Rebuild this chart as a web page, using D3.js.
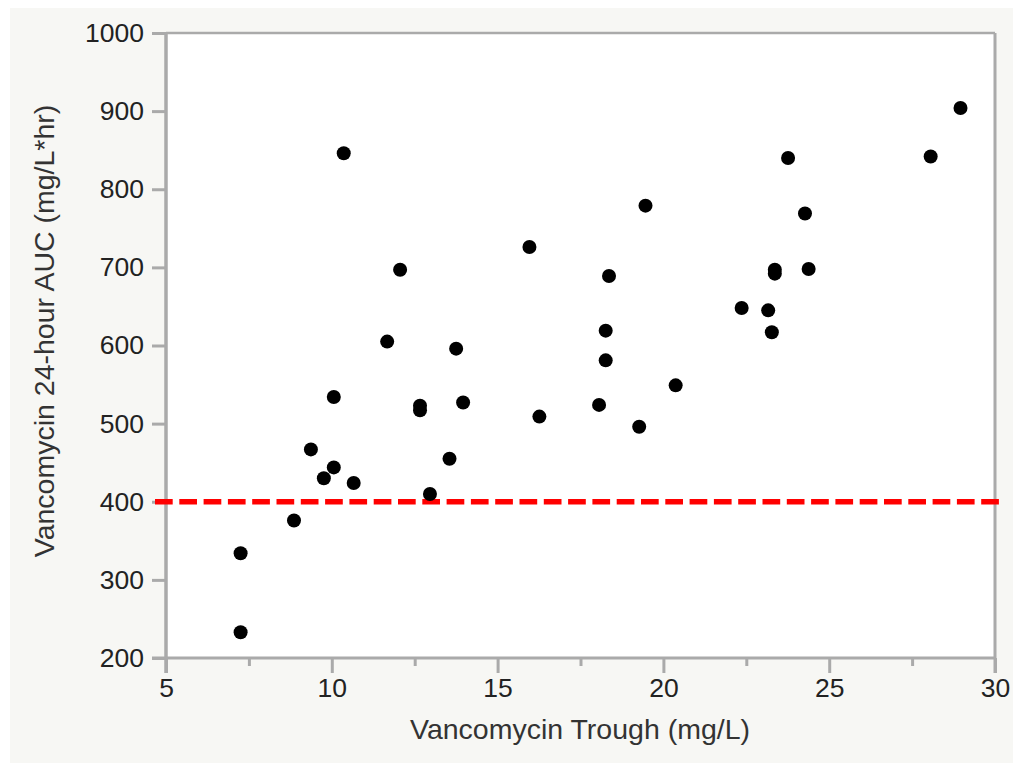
<!DOCTYPE html>
<html>
<head>
<meta charset="utf-8">
<script src="https://cdn.jsdelivr.net/npm/d3@7"></script>
<style>
  body { margin: 0; background: #fff; }
</style>
</head>
<body>
<div id="chart"></div>
<script>
// trough (mg/L) vs 24h AUC (mg/L*hr)
const trough = [7.25, 7.25, 8.86, 9.37, 9.76, 10.06, 10.06, 10.36, 10.66, 11.67, 12.06, 12.66,
  12.66, 12.96, 13.55, 13.75, 13.96, 15.96, 16.26, 18.06, 18.26, 18.26, 18.36, 19.27,
  19.46, 20.37, 22.36, 23.16, 23.27, 23.36, 23.36, 23.76, 24.27, 24.38, 28.06, 28.96];
const auc = [233, 334, 376, 467, 430, 444, 534, 846, 424, 605, 697, 523,
  517, 410, 455, 596, 527, 726, 509, 524, 581, 619, 689, 496,
  779, 549, 648, 645, 617, 697, 692, 840, 769, 698, 842, 904];
const xTicks = [5, 10, 15, 20, 25, 30];
const xMinor = [7.5, 12.5, 17.5, 22.5, 27.5];
const yTicks = [200, 300, 400, 500, 600, 700, 800, 900, 1000];
const target = 400;

const width = 1013, height = 763;
const margin = { top: 33, right: 18, bottom: 105, left: 166 };

const svg = d3.select("#chart").append("svg")
  .attr("width", width)
  .attr("height", height);

// panel background
svg.append("rect")
  .attr("x", 10).attr("y", 8)
  .attr("width", width - 10).attr("height", height - 8)
  .attr("fill", "#f7f7f4");

const x = d3.scaleLinear().domain([5, 30]).range([margin.left, width - margin.right]);
const y = d3.scaleLinear().domain([200, 1000]).range([height - margin.bottom, margin.top]);

svg.append("rect")
  .attr("x", x(5)).attr("y", y(1000))
  .attr("width", x(30) - x(5)).attr("height", y(200) - y(1000))
  .attr("fill", "#fff");

const font = "'Liberation Sans', Arial, Helvetica, sans-serif";
const tickColor = "#aaaaaa";

// y axis
const yAxis = svg.append("g")
  .attr("transform", `translate(${x(5)},0)`)
  .call(d3.axisLeft(y).tickValues(yTicks).tickFormat(d3.format("d")).tickSize(14).tickPadding(8));
// x axis
const xAxis = svg.append("g")
  .attr("transform", `translate(0,${y(200)})`)
  .call(d3.axisBottom(x).tickValues(xTicks).tickSize(15).tickPadding(5));
svg.append("g")
  .attr("transform", `translate(0,${y(200)})`)
  .call(d3.axisBottom(x).tickValues(xMinor).tickSize(8).tickFormat(""))
  .call(g => g.select(".domain").remove())
  .selectAll("line").attr("stroke", tickColor).attr("stroke-width", 3);

[yAxis, xAxis].forEach(g => {
  g.select(".domain").remove();
  g.selectAll("line").attr("stroke", tickColor).attr("stroke-width", 3);
  g.selectAll("text")
    .attr("font-family", font)
    .attr("font-size", 26.5)
    .attr("fill", "#222");
});

// frame
svg.append("line")
  .attr("x1", x(5)).attr("x2", x(30)).attr("y1", y(1000)).attr("y2", y(1000))
  .attr("stroke", tickColor).attr("stroke-width", 2.5);
svg.append("line")
  .attr("x1", x(30)).attr("x2", x(30)).attr("y1", y(1000)).attr("y2", y(200) + 15)
  .attr("stroke", tickColor).attr("stroke-width", 3);
svg.append("line")
  .attr("x1", x(5)).attr("x2", x(5)).attr("y1", y(1000)).attr("y2", y(200) + 15)
  .attr("stroke", tickColor).attr("stroke-width", 3.5);
svg.append("line")
  .attr("x1", x(5) - 14).attr("x2", x(30)).attr("y1", y(200)).attr("y2", y(200))
  .attr("stroke", tickColor).attr("stroke-width", 3);

// threshold line
svg.append("line")
  .attr("x1", x(5) - 11).attr("x2", x(30) + 8)
  .attr("y1", y(target)).attr("y2", y(target))
  .attr("stroke", "#ff0000")
  .attr("stroke-width", 5.5)
  .attr("stroke-dasharray", "17.7 6.6");

// points
svg.append("g").selectAll("circle")
  .data(d3.zip(trough, auc))
  .enter()
  .append("circle")
  .attr("cx", d => x(d[0]))
  .attr("cy", d => y(d[1]))
  .attr("r", 7)
  .attr("fill", "#000");

// axis titles
svg.append("text")
  .attr("x", 580).attr("y", 739)
  .attr("text-anchor", "middle")
  .attr("font-family", font)
  .attr("font-size", 28.5)
  .attr("fill", "#333")
  .text("Vancomycin Trough (mg/L)");

svg.append("text")
  .attr("transform", `translate(54,${331}) rotate(-90)`)
  .attr("text-anchor", "middle")
  .attr("font-family", font)
  .attr("font-size", 28.5)
  .attr("fill", "#333")
  .text("Vancomycin 24-hour AUC (mg/L*hr)");
</script>
</body>
</html>
